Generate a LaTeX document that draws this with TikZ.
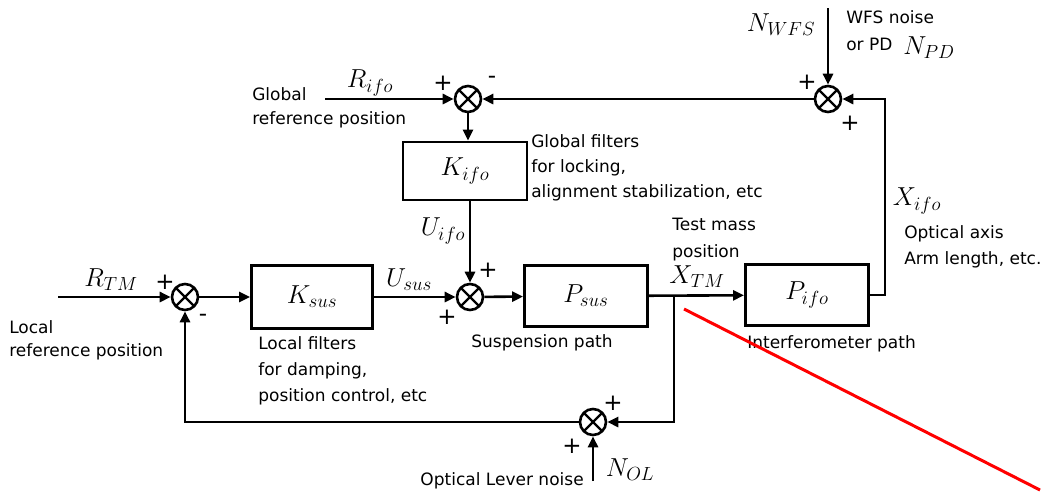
\RequirePackage{fix-cm}
\documentclass[tikz,border=0pt]{standalone}
\usepackage{fontspec}
\setmainfont{DejaVu Sans}
\DeclareMathSizes{26}{26}{19}{14}
\usetikzlibrary{arrows.meta}
\begin{document}
\begin{tikzpicture}[x=1pt,y=-1pt,line width=2.6pt,
  conn/.style={-{Triangle[length=11pt,width=10pt]}},
  blk/.style={draw,line width=2.9pt,minimum width=122pt,minimum height=61pt,inner sep=0pt,font=\fontsize{26}{26}\selectfont},
  sumn/.style={circle,draw,line width=2.6pt,minimum size=26pt,inner sep=0pt,
    path picture={\draw[line width=2.4pt] (path picture bounding box.north west) -- (path picture bounding box.south east)
      (path picture bounding box.north east) -- (path picture bounding box.south west);}},
  lbl/.style={font=\fontsize{17}{25}\selectfont,align=left,inner sep=0pt},
  mth/.style={font=\fontsize{26}{26}\selectfont,inner sep=0pt},
  sgn/.style={font=\fontsize{23}{23}\selectfont,inner sep=0pt}]
\useasboundingbox (0,0) rectangle (1042,491);

% blocks and summing junctions
\node[sumn] (s1) at (185,297) {};
\node[blk,minimum width=121pt,minimum height=63pt] (ksus) at (312,297) {$K_{sus}$};
\node[sumn] (s2) at (470,297) {};
\node[blk,minimum width=124pt,minimum height=58pt] (kifo) at (465,171) {$K_{ifo}$};
\node[sumn] (s3) at (468,99) {};
\node[blk,minimum width=123pt,minimum height=61pt] (psus) at (586,296) {$P_{sus}$};
\node[blk,minimum width=123pt,minimum height=61pt] (pifo) at (807,295) {$P_{ifo}$};
\node[sumn] (s5) at (828,99) {};
\node[sumn] (s4) at (593,422) {};

% free ends
\coordinate (rtmin) at (58,297);
\coordinate (rifoin) at (325,99);
\coordinate (nwfsin) at (828,8);
\coordinate (nolin) at (593,481);
\coordinate (br) at (674,297);
\coordinate (pout) at (885,295);

% connectors
\draw[conn] (rtmin) -- (s1);
\draw[conn] (s1) -- (ksus);
\draw[conn] (ksus) -- (s2);
\draw[conn] (s3) -- (s3 |- kifo.north);
\draw[conn] (s2 |- kifo.south) -- (s2);
\draw[conn] (s2) -- (psus);
\draw[conn] (psus) -- (pifo);
\draw[conn] (br) |- (s4);
\draw[conn] (s4) -| (s1);
\draw[conn] (nolin) -- (s4);
\draw[conn] (pifo.east) -- (pout) |- (s5);
\draw[conn] (nwfsin) -- (s5);
\draw[conn] (s5) -- (s3);
\draw[conn] (rifoin) -- (s3);

% math labels
\node[mth] (lrtm) at (111,280) {$R_{TM}$};
\node[mth] (lusus) at (409,280) {$U_{sus}$};
\node[mth] (luifo) at (443,231) {$U_{ifo}$};
\node[mth] (lrifo) at (370,83) {$R_{ifo}$};
\node[mth] (lxtm) at (697,277) {$X_{TM}$};
\node[mth] (lxifo) at (917,201) {$X_{ifo}$};
\node[mth] (lnwfs) at (781,25) {$N_{WFS}$};
\node[mth] (lnpd) at (929,48) {$N_{PD}$};
\node[mth] (lnol) at (630,470) {$N_{OL}$};

% signs
\node[sgn] (p1a) at (165,282) {+};
\node[sgn] (m1b) at (203,318) {-};
\node[sgn] (p3a) at (443,83) {+};
\node[sgn] (m3b) at (492,80) {-};
\node[sgn] (p2a) at (488,270) {+};
\node[sgn] (p2b) at (447,317) {+};
\node[sgn] (p5a) at (807,82) {+};
\node[sgn] (p5b) at (850,123) {+};
\node[sgn] (p4a) at (613,403) {+};
\node[sgn] (p4b) at (572,446) {+};

% text labels
\node[lbl,anchor=north west,font=\fontsize{17}{23.5}\selectfont] (tlocal) at (8,319) {Local\\reference position};
\node[lbl,anchor=north west,font=\fontsize{17}{24}\selectfont] (tglobal) at (251,86) {Global\\reference position};
\node[lbl,anchor=north west] (tgf) at (530,133) {Global filters\\for locking,\\alignment stabilization, etc};
\node[lbl,anchor=north west,font=\fontsize{17}{26}\selectfont] (tlf) at (257,335) {Local filters\\for damping,\\position control, etc};
\node[lbl,anchor=north west,font=\fontsize{17}{27}\selectfont] (ttm) at (671,217) {Test mass\\position};
\node[lbl,anchor=north west,font=\fontsize{17}{26}\selectfont] (toa) at (903,224) {Optical axis\\Arm length, etc.};
\node[lbl,anchor=north west,font=\fontsize{17}{27}\selectfont] (twfs) at (845,9) {WFS noise\\or PD};
\node[lbl,anchor=base] (tsus) at (542,347) {Suspension path};
\node[lbl,anchor=base west] (tifo) at (746,348) {Interferometer path};
\node[lbl,anchor=base east] (tol) at (585,485) {Optical Lever noise};

% red stroke
\draw[red,line width=3pt] (684,309) -- (1040,490);
\end{tikzpicture}
\end{document}
